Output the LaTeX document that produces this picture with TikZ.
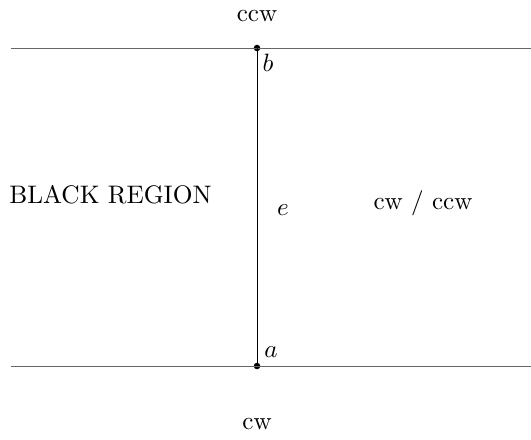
\documentclass[tikz,border=0pt]{standalone}
\begin{document}
\begin{tikzpicture}[x=0.3985pt,y=-0.3985pt,
  hline/.style={line width=0.4pt,draw=black!60},
  vline/.style={line width=0.35pt,draw=black},
  vdot/.style={circle,fill=black,inner sep=0pt,minimum size=2.6pt},
  lbl/.style={inner sep=0pt}]
\useasboundingbox (0,0) rectangle (531,439);
\coordinate (tl) at (11,48);
\coordinate (tr) at (531,48);
\coordinate (bl) at (11,366);
\coordinate (br) at (531,366);
\node[vdot] (b) at (257,48) {};
\node[vdot] (a) at (257,366) {};
\draw[hline] (tl) -- (tr);
\draw[hline] (bl) -- (br);
\draw[vline] (a.center) -- (b.center);
\node[lbl] (ccw) at (257,16) {ccw};
\node[lbl] (cw) at (257,424) {cw};
\node[lbl] (blab) at (268,63) {$b$};
\node[lbl] (alab) at (271,352) {$a$};
\node[lbl] (elab) at (283,210) {$e$};
\node[lbl,scale=1.01] (black) at (110.5,195) {BLACK REGION};
\node[lbl] (cwccw) at (423,203) {cw / ccw};
\end{tikzpicture}
\end{document}
